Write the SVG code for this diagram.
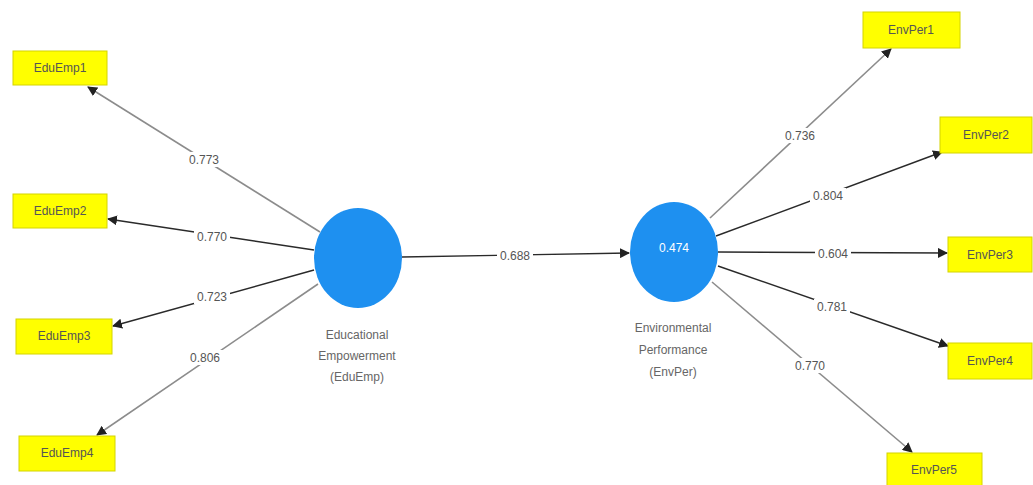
<svg xmlns="http://www.w3.org/2000/svg" width="1033" height="485" viewBox="0 0 1033 485">
<defs>
<marker id="ah" viewBox="0 0 10 10" refX="9" refY="5" markerWidth="10" markerHeight="10" markerUnits="userSpaceOnUse" orient="auto">
<path d="M0,0 L10,5 L0,10 z" fill="#222"/>
</marker>
<style>
.box{fill:#ffff00;stroke:#d4d400;stroke-width:1}
.bt{font-family:"Liberation Sans",Arial,sans-serif;font-size:12px;fill:#555;text-anchor:middle;dominant-baseline:central}
.lat{fill:#1e90f0}
.lt{font-family:"Liberation Sans",Arial,sans-serif;font-size:12px;fill:#666;text-anchor:middle;dominant-baseline:central}
.g{stroke:#8c8c8c;stroke-width:1.6;fill:none}
.d{stroke:#2a2a2a;stroke-width:1.4;fill:none}
.wl{fill:#fff}
.el{font-family:"Liberation Sans",Arial,sans-serif;font-size:12px;fill:#555;text-anchor:middle;dominant-baseline:central}
</style>
</defs>
<rect width="1033" height="485" fill="#fff"/>
<g id="connectors">
<line class="g" x1="320" y1="232" x2="88" y2="87" marker-end="url(#ah)"/>
<line class="d" x1="314" y1="250" x2="108" y2="219" marker-end="url(#ah)"/>
<line class="d" x1="314" y1="270" x2="113" y2="326" marker-end="url(#ah)"/>
<line class="g" x1="318" y1="284" x2="97" y2="435" marker-end="url(#ah)"/>
<line class="d" x1="402" y1="257" x2="629" y2="253" marker-end="url(#ah)"/>
<line class="g" x1="710" y1="218" x2="891" y2="49" marker-end="url(#ah)"/>
<line class="d" x1="716" y1="236" x2="942" y2="152" marker-end="url(#ah)"/>
<line class="d" x1="718" y1="252" x2="947" y2="253" marker-end="url(#ah)"/>
<line class="d" x1="718" y1="266" x2="948" y2="346" marker-end="url(#ah)"/>
<line class="g" x1="712" y1="282" x2="912" y2="452" marker-end="url(#ah)"/>
<g id="edge-labels">
<rect class="wl" x="186" y="152" width="36" height="15"/><text class="el" x="204" y="160">0.773</text>
<rect class="wl" x="194" y="229" width="36" height="15"/><text class="el" x="212" y="237">0.770</text>
<rect class="wl" x="194" y="289" width="36" height="15"/><text class="el" x="212" y="297">0.723</text>
<rect class="wl" x="187" y="350" width="36" height="15"/><text class="el" x="205" y="358">0.806</text>
<rect class="wl" x="497" y="248" width="36" height="15"/><text class="el" x="515" y="256">0.688</text>
<rect class="wl" x="782" y="128" width="36" height="15"/><text class="el" x="800" y="136">0.736</text>
<rect class="wl" x="810" y="188" width="36" height="15"/><text class="el" x="828" y="196">0.804</text>
<rect class="wl" x="815" y="246" width="36" height="15"/><text class="el" x="833" y="254">0.604</text>
<rect class="wl" x="814" y="299" width="36" height="15"/><text class="el" x="832" y="307">0.781</text>
<rect class="wl" x="792" y="358" width="36" height="15"/><text class="el" x="810" y="366">0.770</text>
</g>
</g>
<g id="EduEmp1"><rect class="box" x="13" y="51" width="94" height="34"/><text class="bt" x="60" y="68">EduEmp1</text></g>
<g id="EduEmp2"><rect class="box" x="13" y="194" width="94" height="34"/><text class="bt" x="60" y="211">EduEmp2</text></g>
<g id="EduEmp3"><rect class="box" x="16" y="319" width="96" height="35"/><text class="bt" x="64" y="336">EduEmp3</text></g>
<g id="EduEmp4"><rect class="box" x="19" y="436" width="96" height="35"/><text class="bt" x="67" y="453">EduEmp4</text></g>
<g id="EduEmp">
<ellipse class="lat" cx="358" cy="258" rx="44" ry="50"/>
<text class="lt" x="357" y="335">Educational</text>
<text class="lt" x="357" y="356">Empowerment</text>
<text class="lt" x="357" y="377">(EduEmp)</text>
</g>
<g id="EnvPer">
<ellipse class="lat" cx="674" cy="252" rx="44" ry="50"/>
<text x="674" y="248" font-family="Liberation Sans, Arial, sans-serif" font-size="12" fill="#fff" text-anchor="middle" dominant-baseline="central">0.474</text>
<text class="lt" x="673" y="328">Environmental</text>
<text class="lt" x="673" y="350">Performance</text>
<text class="lt" x="673" y="372">(EnvPer)</text>
</g>
<g id="EnvPer1"><rect class="box" x="863" y="12" width="97" height="36"/><text class="bt" x="911" y="30">EnvPer1</text></g>
<g id="EnvPer2"><rect class="box" x="940" y="117" width="92" height="36"/><text class="bt" x="986" y="135">EnvPer2</text></g>
<g id="EnvPer3"><rect class="box" x="948" y="237" width="84" height="35"/><text class="bt" x="990" y="255">EnvPer3</text></g>
<g id="EnvPer4"><rect class="box" x="948" y="343" width="84" height="36"/><text class="bt" x="990" y="361">EnvPer4</text></g>
<g id="EnvPer5"><rect class="box" x="887" y="453" width="95" height="34"/><text class="bt" x="934" y="470">EnvPer5</text></g>
</svg>
